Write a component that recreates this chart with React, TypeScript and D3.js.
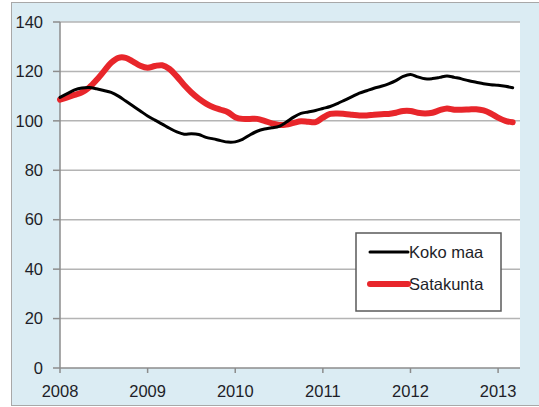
import React from "react";
import * as d3 from "d3";

const years = ["2008", "2009", "2010", "2011", "2012", "2013"];
const yTicks = [0, 20, 40, 60, 80, 100, 120, 140];
const seriesNames = ["Koko maa", "Satakunta"];

// Monthly values, Jan 2008 – Mar 2013
const kokoMaa = [
  109.5, 111, 112.5, 113.3, 113.5, 113, 112.3, 111.5, 110, 108, 106, 104,
  102, 100.3, 98.7, 97, 95.5, 94.6, 94.8, 94.5, 93.3, 92.7, 92, 91.4,
  91.5, 92.5, 94.3, 95.8, 96.7, 97.2, 97.8, 99.5, 101.5, 103, 103.6, 104.2,
  105, 105.8, 107, 108.4, 109.8, 111.2, 112.2, 113.2, 114, 115, 116.3, 118,
  118.8, 117.8, 117, 117.1, 117.6, 118.2, 117.6, 117, 116.2, 115.6, 115, 114.6,
  114.4, 114, 113.4,
];
const satakunta = [
  108.6, 109.5, 110.5, 111.5, 113.5, 116.5, 120, 123.5, 125.5, 125.5, 124, 122.3,
  121.5, 122.2, 122.5, 121, 118, 114.5, 111.5, 109, 107, 105.5, 104.5, 103.5,
  101.5, 100.8, 100.8, 100.8, 100, 99, 98.3, 98.5, 99.2, 99.8, 99.6, 99.5,
  101.3, 102.8, 103, 102.8, 102.5, 102.2, 102.2, 102.5, 102.7, 102.8, 103.3, 104,
  104, 103.3, 103, 103.3, 104.3, 105, 104.5, 104.5, 104.6, 104.7, 104.2, 103,
  101.3, 100, 99.4,
];

const W = 539;
const H = 407;
const plot = { left: 60, right: 520, top: 22, bottom: 368 };
const font = "'Liberation Sans', Arial, sans-serif";
const textColor = "#1e1e28";

export default function App() {
  const x = d3.scaleLinear().domain([0, 63]).range([plot.left, plot.right]);
  const y = d3.scaleLinear().domain([0, 140]).range([plot.bottom, plot.top]);
  const line = d3
    .line<number>()
    .x((_, i) => x(i))
    .y((d) => y(d))
    .curve(d3.curveCatmullRom);

  const legend = { x: 356, y: 233, w: 145, h: 78 };

  return (
    <svg
      width={W}
      height={H}
      style={{ position: "absolute", left: 0, top: 0, background: "#fff" }}
    >
      <rect x={11.5} y={2.5} width={W} height={403} fill="#dbecf3" stroke="#a8a8a8" strokeWidth={1} />
      <rect x={plot.left} y={plot.top} width={plot.right - plot.left} height={plot.bottom - plot.top} fill="#fff" />
      {yTicks.map((t) => (
        <g key={t}>
          {t > 0 && (
            <line x1={plot.left} x2={plot.right} y1={y(t)} y2={y(t)} stroke="#b4b4b4" strokeWidth={1.5} />
          )}
          <line x1={plot.left - 7} x2={plot.left} y1={y(t)} y2={y(t)} stroke="#8c8c8c" strokeWidth={1.5} />
          <text
            x={43}
            y={y(t)}
            dy="0.35em"
            textAnchor="end"
            fontFamily={font}
            fontSize={16.5}
            fill={textColor}
          >
            {t}
          </text>
        </g>
      ))}
      <line x1={plot.left} x2={plot.left} y1={plot.top} y2={plot.bottom} stroke="#8c8c8c" strokeWidth={1.5} />
      <line x1={plot.left} x2={plot.right} y1={plot.bottom} y2={plot.bottom} stroke="#8c8c8c" strokeWidth={1.5} />
      {years.map((yr, i) => (
        <g key={yr}>
          <line x1={x(i * 12)} x2={x(i * 12)} y1={plot.bottom} y2={plot.bottom + 5} stroke="#8c8c8c" strokeWidth={1.5} />
          <text
            x={x(i * 12)}
            y={391}
            dy="0.35em"
            textAnchor="middle"
            fontFamily={font}
            fontSize={16.5}
            fill={textColor}
          >
            {yr}
          </text>
        </g>
      ))}
      <path d={line(satakunta) || ""} fill="none" stroke="#e8262b" strokeWidth={6} strokeLinejoin="round" strokeLinecap="round" />
      <path d={line(kokoMaa) || ""} fill="none" stroke="#000" strokeWidth={3} strokeLinejoin="round" strokeLinecap="round" />

      <rect x={legend.x} y={legend.y} width={legend.w} height={legend.h} fill="#fff" stroke="#5a5a5a" strokeWidth={1.5} />
      {seriesNames.map((name, i) => {
        const cy = legend.y + 19 + i * 32;
        return (
          <g key={name}>
            <line
              x1={370}
              x2={408}
              y1={cy}
              y2={cy}
              stroke={i === 0 ? "#000" : "#e8262b"}
              strokeWidth={i === 0 ? 3 : 6}
              strokeLinecap="round"
            />
            <text x={409} y={cy} dy="0.35em" fontFamily={font} fontSize={16.5} fill={textColor}>
              {name}
            </text>
          </g>
        );
      })}
    </svg>
  );
}
